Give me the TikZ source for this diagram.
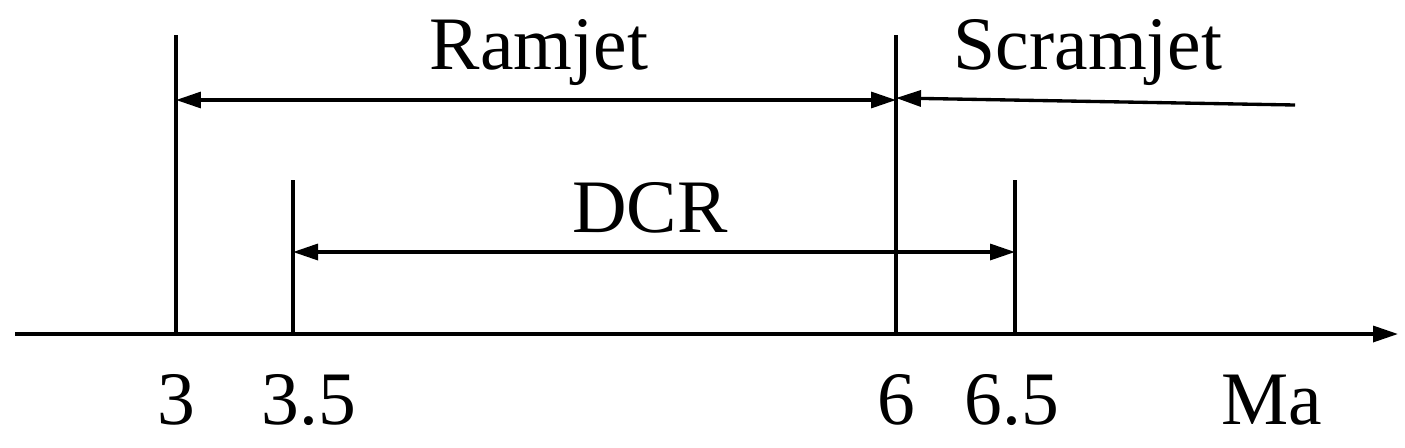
\documentclass[tikz,border=0pt]{standalone}
\usepackage{fontspec}
\setmainfont{Liberation Serif}
\usetikzlibrary{arrows.meta}
\begin{document}
\begin{tikzpicture}[x=0.02cm,y=-0.02cm,
  ln/.style={line width=1.9pt},
  arr/.style={ln,-{Triangle[length=0.5cm,width=0.32cm]}},
  darr/.style={ln,{Triangle[length=0.5cm,width=0.32cm]}-{Triangle[length=0.5cm,width=0.32cm]}},
  lbl/.style={font=\fontsize{43}{45}\selectfont,inner sep=0pt}]
\useasboundingbox (0,0) rectangle (1405,447);
\coordinate (a0) at (15,334); \coordinate (a1) at (1398,334);
\draw[arr] (a0) -- (a1);
\coordinate (v3t) at (176,35); \coordinate (v3b) at (176,334);
\coordinate (v35t) at (293,180); \coordinate (v35b) at (293,334);
\coordinate (v6t) at (896,35); \coordinate (v6b) at (896,334);
\coordinate (v65t) at (1015,180); \coordinate (v65b) at (1015,334);
\draw[ln] (v3t)--(v3b) (v35t)--(v35b) (v6t)--(v6b) (v65t)--(v65b);
\coordinate (r0) at (176,100); \coordinate (r1) at (896,100);
\draw[darr] (r0)--(r1);
\coordinate (s0) at (1295,105); \coordinate (s1) at (896,98);
\draw[arr] (s0)--(s1);
\coordinate (d0) at (293,252); \coordinate (d1) at (1015,252);
\draw[darr] (d0)--(d1);
\node[lbl] (ram) at (539,53) {Ramjet};
\node[lbl] (scr) at (1088,53) {Scramjet};
\node[lbl] (dcr) at (650,208) {DCR};
\node[lbl] (t3) at (176,400) {3};
\node[lbl] (t35) at (309,400) {3.5};
\node[lbl] (t6) at (896,400) {6};
\node[lbl] (t65) at (1012,400) {6.5};
\node[lbl] (ma) at (1272,400) {Ma};
\end{tikzpicture}
\end{document}
